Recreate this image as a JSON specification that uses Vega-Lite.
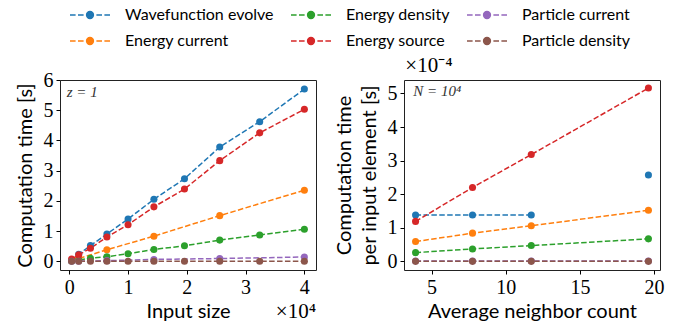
{
  "$schema": "https://vega.github.io/schema/vega-lite/v6.json",
  "padding": {"left": 14, "top": 4, "right": 5, "bottom": 5},
  "background": "white",
  "datasets": {
    "size": [
      {"series": "Wavefunction evolve", "input_size": 400, "time": 0.02},
      {"series": "Wavefunction evolve", "input_size": 1600, "time": 0.23},
      {"series": "Wavefunction evolve", "input_size": 3600, "time": 0.52},
      {"series": "Wavefunction evolve", "input_size": 6400, "time": 0.90},
      {"series": "Wavefunction evolve", "input_size": 10000, "time": 1.40},
      {"series": "Wavefunction evolve", "input_size": 14400, "time": 2.05},
      {"series": "Wavefunction evolve", "input_size": 19600, "time": 2.73},
      {"series": "Wavefunction evolve", "input_size": 25600, "time": 3.78},
      {"series": "Wavefunction evolve", "input_size": 32400, "time": 4.62},
      {"series": "Wavefunction evolve", "input_size": 40000, "time": 5.70},
      {"series": "Energy current", "input_size": 400, "time": 0.02},
      {"series": "Energy current", "input_size": 1600, "time": 0.09},
      {"series": "Energy current", "input_size": 6400, "time": 0.38},
      {"series": "Energy current", "input_size": 14400, "time": 0.83},
      {"series": "Energy current", "input_size": 25600, "time": 1.51},
      {"series": "Energy current", "input_size": 40000, "time": 2.35},
      {"series": "Energy density", "input_size": 400, "time": 0.01},
      {"series": "Energy density", "input_size": 1600, "time": 0.04},
      {"series": "Energy density", "input_size": 3600, "time": 0.10},
      {"series": "Energy density", "input_size": 6400, "time": 0.15},
      {"series": "Energy density", "input_size": 10000, "time": 0.25},
      {"series": "Energy density", "input_size": 14400, "time": 0.39},
      {"series": "Energy density", "input_size": 19600, "time": 0.51},
      {"series": "Energy density", "input_size": 25600, "time": 0.70},
      {"series": "Energy density", "input_size": 32400, "time": 0.87},
      {"series": "Energy density", "input_size": 40000, "time": 1.06},
      {"series": "Energy source", "input_size": 400, "time": 0.07},
      {"series": "Energy source", "input_size": 1600, "time": 0.21},
      {"series": "Energy source", "input_size": 3600, "time": 0.43},
      {"series": "Energy source", "input_size": 6400, "time": 0.80},
      {"series": "Energy source", "input_size": 10000, "time": 1.21},
      {"series": "Energy source", "input_size": 14400, "time": 1.80},
      {"series": "Energy source", "input_size": 19600, "time": 2.39},
      {"series": "Energy source", "input_size": 25600, "time": 3.33},
      {"series": "Energy source", "input_size": 32400, "time": 4.25},
      {"series": "Energy source", "input_size": 40000, "time": 5.03},
      {"series": "Particle current", "input_size": 400, "time": 0.0},
      {"series": "Particle current", "input_size": 1600, "time": 0.0},
      {"series": "Particle current", "input_size": 6400, "time": 0.02},
      {"series": "Particle current", "input_size": 14400, "time": 0.06},
      {"series": "Particle current", "input_size": 25600, "time": 0.09},
      {"series": "Particle current", "input_size": 40000, "time": 0.14},
      {"series": "Particle density", "input_size": 400, "time": 0.0},
      {"series": "Particle density", "input_size": 1600, "time": 0.0},
      {"series": "Particle density", "input_size": 3600, "time": 0.0},
      {"series": "Particle density", "input_size": 6400, "time": 0.0},
      {"series": "Particle density", "input_size": 10000, "time": 0.0},
      {"series": "Particle density", "input_size": 14400, "time": 0.0},
      {"series": "Particle density", "input_size": 19600, "time": 0.0},
      {"series": "Particle density", "input_size": 25600, "time": 0.0},
      {"series": "Particle density", "input_size": 32400, "time": 0.0},
      {"series": "Particle density", "input_size": 40000, "time": 0.0}
    ],
    "neighbors": [
      {"series": "Wavefunction evolve", "neighbors": 3.92, "time_per_element": 0.000138, "connected": true},
      {"series": "Wavefunction evolve", "neighbors": 7.76, "time_per_element": 0.000138, "connected": true},
      {"series": "Wavefunction evolve", "neighbors": 11.72, "time_per_element": 0.000138, "connected": true},
      {"series": "Wavefunction evolve", "neighbors": 19.62, "time_per_element": 0.000257, "connected": false},
      {"series": "Energy current", "neighbors": 3.92, "time_per_element": 0.000059, "connected": true},
      {"series": "Energy current", "neighbors": 7.76, "time_per_element": 0.000084, "connected": true},
      {"series": "Energy current", "neighbors": 11.72, "time_per_element": 0.000106, "connected": true},
      {"series": "Energy current", "neighbors": 19.62, "time_per_element": 0.000152, "connected": true},
      {"series": "Energy density", "neighbors": 3.92, "time_per_element": 0.000026, "connected": true},
      {"series": "Energy density", "neighbors": 7.76, "time_per_element": 0.000037, "connected": true},
      {"series": "Energy density", "neighbors": 11.72, "time_per_element": 0.000047, "connected": true},
      {"series": "Energy density", "neighbors": 19.62, "time_per_element": 0.000067, "connected": true},
      {"series": "Energy source", "neighbors": 3.92, "time_per_element": 0.000119, "connected": true},
      {"series": "Energy source", "neighbors": 7.76, "time_per_element": 0.000220, "connected": true},
      {"series": "Energy source", "neighbors": 11.72, "time_per_element": 0.000318, "connected": true},
      {"series": "Energy source", "neighbors": 19.62, "time_per_element": 0.000516, "connected": true},
      {"series": "Particle current", "neighbors": 3.92, "time_per_element": 0.000001, "connected": true},
      {"series": "Particle current", "neighbors": 7.76, "time_per_element": 0.000001, "connected": true},
      {"series": "Particle current", "neighbors": 11.72, "time_per_element": 0.000001, "connected": true},
      {"series": "Particle current", "neighbors": 19.62, "time_per_element": 0.000001, "connected": true},
      {"series": "Particle density", "neighbors": 3.92, "time_per_element": 0.0, "connected": true},
      {"series": "Particle density", "neighbors": 7.76, "time_per_element": 0.0, "connected": true},
      {"series": "Particle density", "neighbors": 11.72, "time_per_element": 0.0, "connected": true},
      {"series": "Particle density", "neighbors": 19.62, "time_per_element": 0.0, "connected": true}
    ]
  },
  "spacing": 16,
  "hconcat": [
    {
      "width": 256,
      "height": 190,
      "encoding": {
        "x": {"field": "input_size", "type": "quantitative",
              "scale": {"domain": [-1580, 41980], "nice": false, "zero": false},
              "axis": {"title": "Input size", "values": [0, 10000, 20000, 30000, 40000],
                       "labelExpr": "format(datum.value / 10000, 'd')", "titlePadding": 4}},
        "y": {"field": "time", "type": "quantitative",
              "scale": {"domain": [-0.29, 6.0], "nice": false, "zero": false},
              "axis": {"title": "Computation time [s]", "values": [0, 1, 2, 3, 4, 5, 6], "titlePadding": 8}}
      },
      "layer": [
        {
          "data": {"name": "size"},
          "mark": {"type": "line", "strokeDash": [5.5, 2.4], "strokeWidth": 1.5},
          "encoding": {
            "color": {"field": "series", "type": "nominal",
              "scale": {"domain": ["Wavefunction evolve", "Energy density", "Particle current", "Energy current", "Energy source", "Particle density"],
                        "range": ["#1f77b4", "#2ca02c", "#9467bd", "#ff7f0e", "#d62728", "#8c564b"]}}
          }
        },
        {
          "data": {"name": "size"},
          "mark": {"type": "point", "filled": true, "size": 50, "opacity": 1},
          "encoding": {
            "color": {"field": "series", "type": "nominal"}
          }
        },
        {
          "data": {"values": [{"input_size": -440, "time": 5.83, "label": "z = 1"}]},
          "mark": {"type": "text", "align": "left", "baseline": "top", "font": "Liberation Serif", "fontStyle": "italic", "fontSize": 15, "color": "#333"},
          "encoding": {"text": {"field": "label"}}
        },
        {
          "data": {"values": [{"input_size": 41980, "time": -1.87, "label": "×10⁴"}]},
          "mark": {"type": "text", "align": "right", "baseline": "alphabetic", "font": "Liberation Serif", "fontSize": 21, "color": "black"},
          "encoding": {"text": {"field": "label"}}
        }
      ]
    },
    {
      "width": 256,
      "height": 190,
      "encoding": {
        "x": {"field": "neighbors", "type": "quantitative",
              "scale": {"domain": [3.14, 20.40], "nice": false, "zero": false},
              "axis": {"title": "Average neighbor count", "values": [5, 10, 15, 20], "titlePadding": 4}},
        "y": {"field": "time_per_element", "type": "quantitative",
              "scale": {"domain": [-0.0000257, 0.000540], "nice": false, "zero": false},
              "axis": {"title": ["Computation time", "per input element [s]"], "values": [0, 0.0001, 0.0002, 0.0003, 0.0004, 0.0005],
                       "labelExpr": "format(datum.value * 10000, '.0f')", "titlePadding": 8, "titleLineHeight": 25}}
      },
      "layer": [
        {
          "data": {"name": "neighbors"},
          "transform": [{"filter": "datum.connected"}],
          "mark": {"type": "line", "strokeDash": [5.5, 2.4], "strokeWidth": 1.5},
          "encoding": {
            "color": {"field": "series", "type": "nominal"}
          }
        },
        {
          "data": {"name": "neighbors"},
          "mark": {"type": "point", "filled": true, "size": 50, "opacity": 1},
          "encoding": {
            "color": {"field": "series", "type": "nominal"}
          }
        },
        {
          "data": {"values": [{"neighbors": 3.77, "time_per_element": 0.000528, "label": "N = 10⁴"}]},
          "mark": {"type": "text", "align": "left", "baseline": "top", "font": "Liberation Serif", "fontStyle": "italic", "fontSize": 15, "color": "#333"},
          "encoding": {"text": {"field": "label"}}
        },
        {
          "data": {"values": [{"neighbors": 3.23, "time_per_element": 0.000564, "label": "×10⁻⁴"}]},
          "mark": {"type": "text", "align": "left", "baseline": "alphabetic", "font": "Liberation Serif", "fontSize": 21, "color": "black"},
          "encoding": {"text": {"field": "label"}}
        }
      ]
    }
  ],
  "config": {
    "view": {"stroke": "#222", "strokeWidth": 1},
    "axis": {
      "grid": false,
      "domain": false,
      "labelFont": "Liberation Serif",
      "labelFontSize": 20,
      "labelColor": "black",
      "labelPadding": 3,
      "tickColor": "black",
      "tickSize": 4,
      "tickWidth": 1,
      "titleFont": "Lato",
      "titleFontSize": 20,
      "titleFontWeight": "normal",
      "titleColor": "black"
    },
    "legend": {
      "orient": "none",
      "legendX": 19,
      "legendY": -76,
      "direction": "horizontal",
      "columns": 3,
      "columnPadding": 14,
      "rowPadding": 7,
      "title": null,
      "labelFont": "Lato",
      "labelFontSize": 16,
      "labelColor": "black",
      "labelOffset": 24,
      "symbolType": "M-2,0L-1.44,0M-1.2,0L-0.64,0M0.64,0L1.2,0M1.44,0L2,0M0.34,0A0.34,0.34,0,1,1,-0.34,0A0.34,0.34,0,1,1,0.34,0Z",
      "symbolSize": 400,
      "symbolStrokeWidth": 1.5,
      "symbolOpacity": 1
    }
  }
}
